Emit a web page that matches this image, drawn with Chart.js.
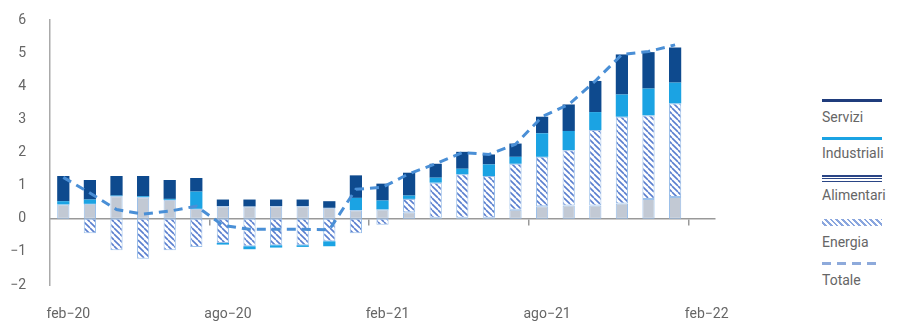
<!DOCTYPE html>
<html>
<head>
<meta charset="utf-8">
<script src="https://cdn.jsdelivr.net/npm/chart.js@4"></script>
<style>
  body { margin: 0; background: #fff; }
  #wrap { position: relative; width: 897px; height: 324px; }
  #box { position: absolute; left: 0; top: 0; width: 730px; height: 324px; }
  #legend { position: absolute; left: 822px; top: 0; font-family: "Roboto", sans-serif; font-size: 14px; color: #666; }
  .sym { position: absolute; left: 0; width: 60px; }
  .txt { position: absolute; left: 0; line-height: 18px; white-space: nowrap; }
</style>
</head>
<body>
<div id="wrap">
  <div id="box"><canvas id="chart"></canvas></div>
  <div id="legend"></div>
</div>
<script>
console.log("grafico inflazione");

// mesi da feb-20 a feb-22 (l'ultimo solo come etichetta)
const mesi = ['feb−20','mar−20','apr−20','mag−20','giu−20','lug−20','ago−20','set−20','ott−20','nov−20','dic−20','gen−21',
  'feb−21','mar−21','apr−21','mag−21','giu−21','lug−21','ago−21','set−21','ott−21','nov−21','dic−21','gen−22','feb−22'];

const alimentari = [0.43,0.45,0.68,0.65,0.57,0.30,0.38,0.37,0.38,0.38,0.33,0.26,0.28,0.20,0.03,0.03,0.03,0.27,0.38,0.40,0.40,0.46,0.60,0.66];
const energia = [0.00,-0.44,-0.95,-1.21,-0.95,-0.85,-0.73,-0.83,-0.80,-0.80,-0.68,-0.44,-0.18,0.40,1.06,1.31,1.26,1.39,1.49,1.67,2.28,2.62,2.52,2.82];
const industriali = [0.10,0.13,0.02,0.03,0.03,0.52,-0.05,-0.09,-0.07,-0.05,-0.15,0.37,0.27,0.10,0.15,0.17,0.35,0.21,0.71,0.58,0.54,0.67,0.81,0.63];
const servizi = [0.76,0.59,0.59,0.61,0.57,0.41,0.20,0.21,0.20,0.20,0.20,0.68,0.51,0.69,0.42,0.51,0.30,0.40,0.50,0.80,0.94,1.21,1.10,1.06];
const totale = [1.25,0.78,0.28,0.14,0.23,0.38,-0.20,-0.32,-0.32,-0.32,-0.33,0.89,0.95,1.36,1.66,2.00,1.94,2.25,3.08,3.45,4.16,4.96,5.05,5.25];

const yTicks = [-2,-1,0,1,2,3,4,5,6];

// tratteggio per Energia
function hatch() {
  const c = document.createElement('canvas');
  c.width = 6; c.height = 6;
  const g = c.getContext('2d');
  g.fillStyle = '#ffffff';
  g.fillRect(0, 0, 6, 6);
  g.strokeStyle = '#5a7fcf';
  g.lineWidth = 1.6;
  g.beginPath();
  for (let k = -6; k <= 6; k += 6) {
    g.moveTo(k, 0);
    g.lineTo(k + 6, 6);
  }
  g.stroke();
  return g.createPattern(c, 'repeat');
}

const barBase = {
  type: 'bar',
  stack: 'barre',
  barPercentage: 0.46,
  categoryPercentage: 1,
  borderSkipped: false,
  order: 1
};

function noPad(s) { s.paddingLeft = 0; s.paddingRight = 0; s.paddingTop = 0; s.paddingBottom = 0; }

const ctx = document.getElementById('chart');

const chart = new Chart(ctx, {
  data: {
    labels: mesi,
    datasets: [
      { ...barBase, label: 'Alimentari', data: alimentari, backgroundColor: '#c2c9d4', borderColor: '#9cc0ea', borderWidth: 1 },
      { ...barBase, label: 'Energia', data: energia, backgroundColor: hatch(), borderColor: '#9cc0ea', borderWidth: 1 },
      { ...barBase, label: 'Industriali', data: industriali, backgroundColor: '#1ba3e3', borderWidth: 0 },
      { ...barBase, label: 'Servizi', data: servizi, backgroundColor: '#0e4a8e', borderWidth: 0 },
      {
        type: 'line',
        label: 'Totale',
        data: totale,
        stack: 'tot',
        borderColor: '#4a8fd6',
        borderWidth: 3,
        borderDash: [9, 6],
        pointRadius: 0,
        tension: 0,
        fill: false,
        order: 0
      }
    ]
  },
  options: {
    responsive: true,
    maintainAspectRatio: false,
    animation: false,
    layout: { padding: { top: 20, right: 15, left: 0, bottom: 0 } },
    plugins: {
      legend: { display: false },
      tooltip: { enabled: false }
    },
    scales: {
      x: {
        type: 'category',
        stacked: true,
        offset: true,
        grid: { display: false },
        border: { display: false },
        ticks: {
          autoSkip: false,
          maxRotation: 0,
          padding: 13,
          labelOffset: 5,
          color: '#666',
          font: { family: 'Roboto', size: 14 },
          callback: function (v, i) { return i % 6 === 0 ? mesi[i] : ''; }
        },
        afterFit: function (s) { s.height = 39; noPad(s); }
      },
      x0: {
        type: 'category',
        position: { y: 0 },
        offset: true,
        grid: {
          offset: true,
          drawOnChartArea: false,
          drawTicks: true,
          tickLength: 6,
          lineWidth: 1.5,
          color: function (c) { return (c.index > 0 && c.index % 6 === 0) ? '#999' : 'rgba(0,0,0,0)'; }
        },
        border: { color: '#999', width: 1.5 },
        ticks: { display: false },
        afterFit: noPad
      },
      y: {
        stacked: true,
        min: -2,
        max: 6,
        grid: { display: false, drawTicks: false },
        border: { color: '#aaa', width: 1.5 },
        afterBuildTicks: function (s) { s.ticks = yTicks.map(v => ({ value: v })); },
        afterFit: function (s) { s.width = 50; noPad(s); },
        ticks: {
          padding: 24,
          color: '#666',
          font: { family: 'Roboto', size: 14 },
          callback: function (v) { return String(v).replace('-', '−'); }
        }
      }
    }
  }
});

// legenda: simbolo sopra, testo sotto
const ordine = ['Servizi', 'Industriali', 'Alimentari', 'Energia', 'Totale'];
const simboli = {
  Servizi: 'height:3px;background:#1f3c7c;',
  Industriali: 'height:3px;background:#1ba3e3;',
  Alimentari: 'height:7px;background:linear-gradient(#2a4585 0 1.5px,#fff 1.5px 2.75px,#2a4585 2.75px 4.25px,#fff 4.25px 5.5px,#2a4585 5.5px 7px);',
  Energia: 'height:7px;background:repeating-linear-gradient(45deg,#fff 0 2px,#8aa6de 2px 4px);',
  Totale: 'height:3px;background:repeating-linear-gradient(90deg,#8eaadb 0 9px,#fff 9px 15px);'
};
const symTop = [99, 137, 175, 219, 262];
const txtTop = [108, 144, 186, 233, 271];
const leg = document.getElementById('legend');
ordine.forEach(function (nome, i) {
  const ds = chart.data.datasets.find(d => d.label === nome);
  const s = document.createElement('div');
  s.className = 'sym';
  s.style.cssText += simboli[nome] + 'top:' + symTop[i] + 'px;';
  const t = document.createElement('div');
  t.className = 'txt';
  t.style.top = txtTop[i] + 'px';
  t.textContent = ds.label;
  leg.appendChild(s);
  leg.appendChild(t);
});
</script>
</body>
</html>
